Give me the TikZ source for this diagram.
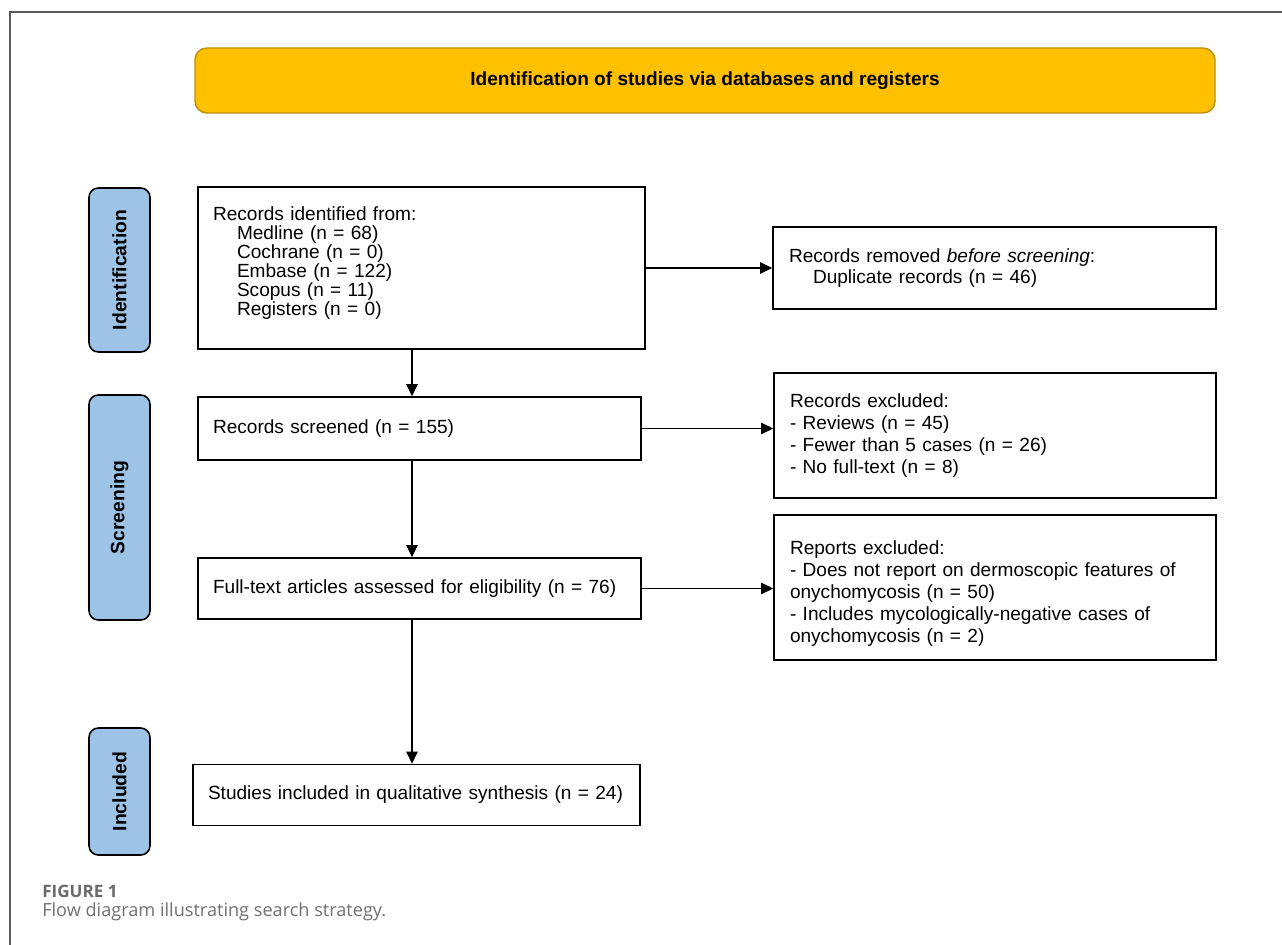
\documentclass[tikz,border=0pt]{standalone}
\usepackage{fontspec}
\setmainfont{Liberation Sans}
\newfontfamily\capfont{Open Sans}
\usetikzlibrary{arrows.meta}
\definecolor{hdrfill}{HTML}{FFC000}
\definecolor{hdrline}{HTML}{BF9000}
\definecolor{sidefill}{HTML}{9DC3E6}
\definecolor{capgray}{HTML}{707070}
\definecolor{figgray}{HTML}{6A6A6A}
\definecolor{framegray}{HTML}{5A5A5A}
\begin{document}
\begin{tikzpicture}[x=0.75pt,y=-0.75pt,
  font=\fontsize{14.3pt}{16.5pt}\selectfont,
  wh/.style 2 args={minimum width=#1*0.75pt, minimum height=#2*0.75pt},
  flowbox/.style={draw=black, line width=1.2pt, fill=white, inner xsep=11pt, inner ysep=0pt, align=left},
  phase/.style={draw=black, line width=1.2pt, fill=sidefill, rounded corners=7pt, rotate=90, inner sep=0pt,
    font=\bfseries\fontsize{14.5pt}{16pt}\selectfont},
  hdrbox/.style={draw=hdrline, line width=1.1pt, fill=hdrfill, rounded corners=9pt, inner sep=0pt,
    font=\bfseries\fontsize{14.3pt}{16pt}\selectfont},
  arr/.style={-{Triangle[length=9pt,width=8.5pt]}, line width=0.8pt, draw=black}
]
\useasboundingbox (0,0) rectangle (1282,945);
\fill[white] (0,0) rectangle (1282,945);
\draw[framegray, line width=1.1pt] (10,945) -- (10,12) -- (1282,12);

\node[hdrbox, wh={1020}{65}] (hdr) at (705,80.5) {Identification of studies via databases and registers};

\node[phase, wh={164}{61}] (pid) at (119.5,270) {Identification};
\node[phase, wh={225}{61}] (psc) at (119.5,507.5) {Screening};
\node[phase, wh={127}{61}] (pin) at (119.5,791.5) {Included};

\node[flowbox, wh={447}{162}, text width=417*0.75pt, font=\fontsize{14.3pt}{14.3pt}\selectfont] (ident) at (421.5,268)
  {Records identified from:\\
   \hspace*{18pt}Medline (n = 68)\\
   \hspace*{18pt}Cochrane (n = 0)\\
   \hspace*{18pt}Embase (n = 122)\\
   \hspace*{18pt}Scopus (n = 11)\\
   \hspace*{18pt}Registers (n = 0)\rule[-10pt]{0pt}{10pt}};
\node[flowbox, wh={443}{82}, text width=411*0.75pt, font=\fontsize{14.3pt}{16pt}\selectfont] (rem) at (994.5,268)
  {Records removed \textit{before screening}:\\
   \hspace*{18pt}Duplicate records (n = 46)};
\node[flowbox, wh={443}{63}, text width=413*0.75pt] (scr) at (419.5,428.5)
  {Records screened (n = 155)};
\node[flowbox, wh={442}{125}, text width=410*0.75pt] (rex) at (995,435.5)
  {Records excluded:\\
   - Reviews (n = 45)\\
   - Fewer than 5 cases (n = 26)\\
   - No full-text (n = 8)};
\node[flowbox, wh={443}{61}, text width=413*0.75pt] (ft) at (419.5,588.5)
  {Full-text articles assessed for eligibility (n = 76)};
\node[flowbox, wh={442}{145}, text width=410*0.75pt] (rep) at (995,587.5)
  {\rule{0pt}{20pt}Reports excluded:\\
   - Does not report on dermoscopic features of\\
   onychomycosis (n = 50)\\
   - Includes mycologically-negative cases of\\
   onychomycosis (n = 2)};
\node[flowbox, wh={447}{61}, text width=417*0.75pt] (inc) at (416.5,795)
  {Studies included in qualitative synthesis (n = 24)};

\coordinate (vx) at (412,0);
\draw[arr] (ident.south -| vx) -- (scr.north -| vx);
\draw[arr] (scr.south -| vx) -- (ft.north -| vx);
\draw[arr] (ft.south -| vx) -- (inc.north -| vx);
\draw[arr] (ident.east) -- (ident.east -| rem.west);
\draw[arr] (scr.east) -- (scr.east -| rex.west);
\draw[arr] (ft.east) -- (ft.east -| rep.west);

\node[anchor=west, inner sep=0pt, text=figgray, font=\capfont\bfseries\fontsize{12.8pt}{14pt}\selectfont] (figlbl) at (42,891) {FIGURE 1};
\node[anchor=west, inner sep=0pt, text=capgray, font=\capfont\fontsize{13.6pt}{16pt}\selectfont] (figcap) at (42,912) {Flow diagram illustrating search strategy.};
\end{tikzpicture}
\end{document}
